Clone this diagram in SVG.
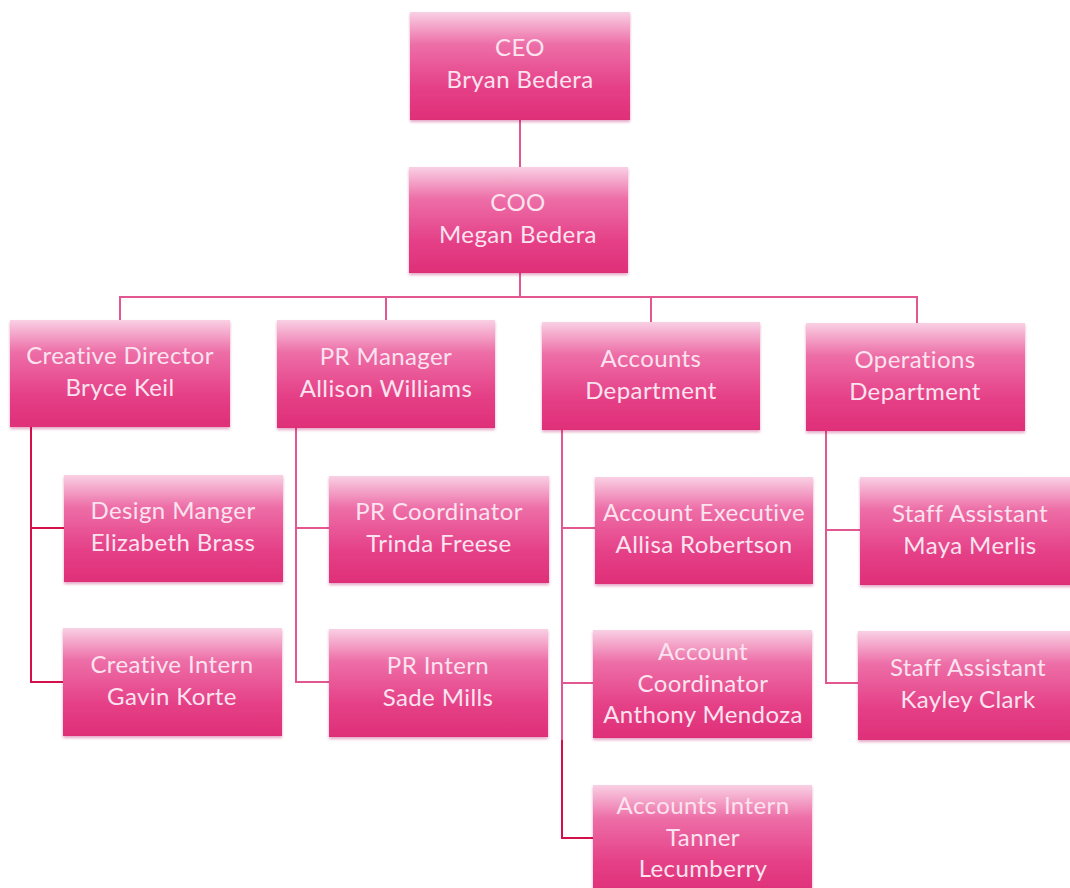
<svg xmlns="http://www.w3.org/2000/svg" width="1070" height="888" viewBox="0 0 1070 888">
<defs>
<linearGradient id="g" x1="0" y1="0" x2="0" y2="1">
<stop offset="0" stop-color="#f9d0e4"/>
<stop offset="0.3" stop-color="#ed6ea7"/>
<stop offset="0.7" stop-color="#e54087"/>
<stop offset="1" stop-color="#df2f78"/>
</linearGradient>
<filter id="sh" x="-5%" y="-5%" width="110%" height="115%">
<feDropShadow dx="0" dy="2" stdDeviation="1.5" flood-color="#b0105a" flood-opacity="0.35"/>
</filter>
</defs>
<style>
.box{fill:url(#g);filter:url(#sh)}
.t{font-family:Lato,"Open Sans","Liberation Sans",sans-serif;font-size:24px;letter-spacing:0.4px;fill:#fbe3ef;text-anchor:middle}
.c{fill:none;stroke:#e2578f;stroke-width:2}
.c2{fill:none;stroke:#d4104a;stroke-width:2}
</style>
<rect width="1070" height="888" fill="#ffffff"/>
<g id="connectors">
<path class="c" d="M520 120V167"/>
<path class="c" d="M520 273V297M120 320V297H917V323M386 297V320M651 297V322"/>
<path class="c2" d="M31 427V682H64M31 528H64"/>
<path class="c" d="M296 428V682H329M296 528H329"/>
<path class="c" d="M562 430V740M562 528H595M562 683H593"/>
<path class="c2" d="M562 740V838H593"/>
<path class="c" d="M826 431V683H858M826 530H860"/>
</g>
<g id="ceo"><rect class="box" x="410" y="12" width="220" height="108"/><text class="t" x="520" y="56">CEO</text><text class="t" x="520" y="88">Bryan Bedera</text></g>
<g id="coo"><rect class="box" x="409" y="167" width="219" height="106"/><text class="t" x="518" y="211">COO</text><text class="t" x="518" y="243">Megan Bedera</text></g>
<g id="creative-director"><rect class="box" x="10" y="320" width="220" height="107"/><text class="t" x="120" y="364">Creative Director</text><text class="t" x="120" y="396">Bryce Keil</text></g>
<g id="pr-manager"><rect class="box" x="277" y="320" width="218" height="108"/><text class="t" x="386" y="365">PR Manager</text><text class="t" x="386" y="397">Allison Williams</text></g>
<g id="accounts-dept"><rect class="box" x="542" y="322" width="218" height="108"/><text class="t" x="651" y="367">Accounts</text><text class="t" x="651" y="399">Department</text></g>
<g id="operations-dept"><rect class="box" x="806" y="323" width="219" height="108"/><text class="t" x="915" y="368">Operations</text><text class="t" x="915" y="400">Department</text></g>
<g id="design-manager"><rect class="box" x="64" y="475" width="219" height="107"/><text class="t" x="173" y="519">Design Manger</text><text class="t" x="173" y="551">Elizabeth Brass</text></g>
<g id="creative-intern"><rect class="box" x="63" y="628" width="219" height="108"/><text class="t" x="172" y="673">Creative Intern</text><text class="t" x="172" y="705">Gavin Korte</text></g>
<g id="pr-coordinator"><rect class="box" x="329" y="476" width="220" height="107"/><text class="t" x="439" y="520">PR Coordinator</text><text class="t" x="439" y="552">Trinda Freese</text></g>
<g id="pr-intern"><rect class="box" x="329" y="629" width="219" height="108"/><text class="t" x="438" y="674">PR Intern</text><text class="t" x="438" y="706">Sade Mills</text></g>
<g id="account-executive"><rect class="box" x="595" y="477" width="218" height="107"/><text class="t" x="704" y="521">Account Executive</text><text class="t" x="704" y="553">Allisa Robertson</text></g>
<g id="account-coordinator"><rect class="box" x="593" y="630" width="219" height="108"/><text class="t" x="703" y="660">Account</text><text class="t" x="703" y="692">Coordinator</text><text class="t" x="703" y="723">Anthony Mendoza</text></g>
<g id="accounts-intern"><rect class="box" x="593" y="785" width="219" height="110"/><text class="t" x="703" y="814">Accounts Intern</text><text class="t" x="703" y="846">Tanner</text><text class="t" x="703" y="877">Lecumberry</text></g>
<g id="staff-assistant-maya"><rect class="box" x="860" y="477" width="215" height="108"/><text class="t" x="970" y="522">Staff Assistant</text><text class="t" x="970" y="554">Maya Merlis</text></g>
<g id="staff-assistant-kayley"><rect class="box" x="858" y="631" width="217" height="109"/><text class="t" x="968" y="676">Staff Assistant</text><text class="t" x="968" y="708">Kayley Clark</text></g>
</svg>
